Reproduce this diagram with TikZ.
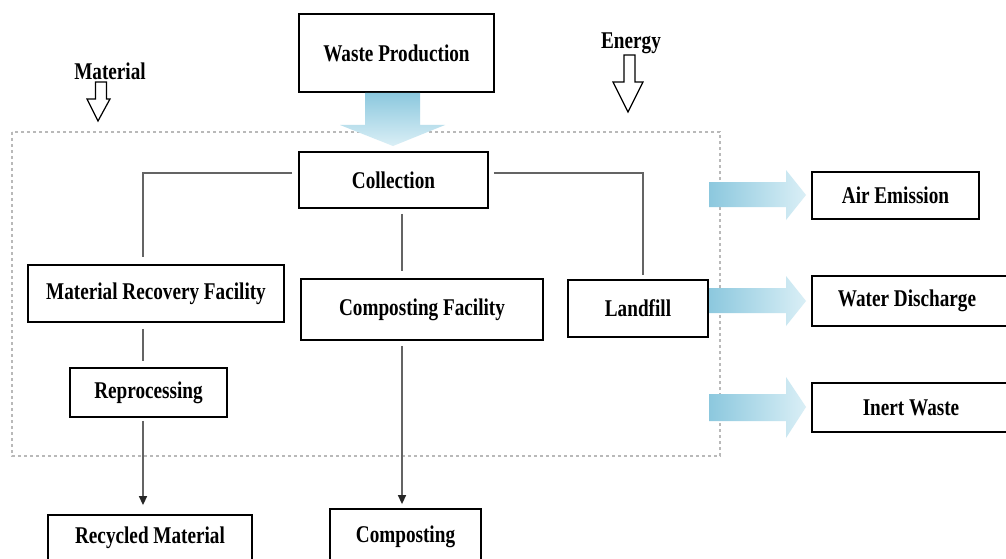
\documentclass[tikz,border=0pt]{standalone}
\usepackage{fontspec}
\setmainfont{Liberation Serif}[FakeStretch=0.8]
\usetikzlibrary{arrows.meta,calc}
\definecolor{blueA}{RGB}{140,200,222}
\definecolor{blueB}{RGB}{218,239,246}
\definecolor{connc}{RGB}{100,100,100}
\tikzset{
  box/.style={draw=black,line width=1.8pt,fill=white,inner sep=0pt,font=\fontsize{24}{26}\selectfont\bfseries},
  conn/.style={draw=connc,line width=1.4pt},
  connarr/.style={conn,-{Triangle[length=9pt,width=8pt,color=black!85,fill=black!85]}},
  lbl/.style={inner sep=0pt,font=\fontsize{24}{26}\selectfont\bfseries},
  hollow/.style={draw=black,fill=white,line width=1.2pt,line join=miter},
  bluer/.style={left color=blueA,right color=blueB,draw=none},
  blued/.style={top color=blueA,bottom color=blueB,draw=none},
  dotbox/.style={draw=gray!55,line width=1.3pt,dash pattern=on 3pt off 3pt}
}
\begin{document}
\begin{tikzpicture}[x=1pt,y=-1pt]
\useasboundingbox (0,0) rectangle (1006,559);
\clip (0,0) rectangle (1006,559);
\fill[white] (0,0) rectangle (1006,559);
% dotted system boundary
\draw[dotbox] (12,132) rectangle (720,456);
% labels with hollow arrows
\node[lbl] (mat) at (110,71) {Material};
\node[lbl] (ene) at (631,43) {Energy};
\draw[hollow] (95.5,82) -- (106.5,82) -- (106.5,99) -- (110,99) -- (98,121) -- (87,99) -- (95.5,99) -- cycle;
\draw[hollow] (624,55) -- (635,55) -- (635,82) -- (643,82) -- (628,112) -- (613,82) -- (624,82) -- cycle;
% boxes
\node[box,minimum width=195pt,minimum height=78pt] (wp) at (396.5,53) {Waste Production};
% big down arrow
\path[blued] (365,93) -- (420,93) -- (420,125) -- (445,125) -- (393,146) -- (340,125) -- (365,125) -- cycle;
\node[box,minimum width=189pt,minimum height=56pt] (col) at (393.5,180) {Collection};
\node[box,minimum width=256pt,minimum height=57pt] (mrf) at (156,293.5) {Material Recovery Facility};
\node[box,minimum width=242pt,minimum height=61pt] (cf) at (422,309.5) {Composting Facility};
\node[box,minimum width=140pt,minimum height=57pt] (lf) at (638,308.5) {Landfill};
\node[box,minimum width=157pt,minimum height=49pt] (rep) at (148.5,392.5) {Reprocessing};
\node[box,minimum width=204pt,minimum height=46pt] (rm) at (150,538) {Recycled Material};
\node[box,minimum width=151pt,minimum height=56pt] (comp) at (405.5,537) {Composting};
\node[box,minimum width=167pt,minimum height=47pt] (air) at (895.5,195.5) {Air Emission};
\node[box,minimum width=198pt,minimum height=50pt] (wd) at (911,301) {};
\node[lbl] (wdt) at (907,301) {Water Discharge};
\node[box,minimum width=198pt,minimum height=49pt] (iw) at (911,407.5) {};
\node[lbl] (iwt) at (911,407.5) {Inert Waste};
% connectors
\draw[conn,shorten <=6pt,shorten >=7pt] ([yshift=7pt]col.west) -| ([xshift=-13pt]mrf.north);
\draw[conn,shorten <=5pt,shorten >=4pt] ([yshift=7pt]col.east) -| ([xshift=5pt]lf.north);
\draw[conn,shorten <=5pt,shorten >=7pt] ([xshift=8.5pt]col.south) -- ([xshift=8.5pt]col.south |- cf.north);
\draw[conn,shorten <=6pt,shorten >=6pt] ([xshift=-5.5pt]rep.north |- mrf.south) -- ([xshift=-5.5pt]rep.north);
\draw[connarr,shorten <=3pt,shorten >=9pt] ([xshift=-5.5pt]rep.south) -- ([xshift=-5.5pt]rep.south |- rm.north);
\draw[connarr,shorten <=5pt,shorten >=4pt] ([xshift=-20pt]cf.south) -- ([xshift=-20pt]cf.south |- comp.north);
% blue output arrows
\path[bluer] (709,182) -- (786,182) -- (786,170) -- (806,195) -- (786,220) -- (786,207) -- (709,207) -- cycle;
\path[bluer] (709,288) -- (786,288) -- (786,276) -- (806,301) -- (786,326) -- (786,313) -- (709,313) -- cycle;
\path[bluer] (709,394) -- (786,394) -- (786,377) -- (806,407) -- (786,438) -- (786,421) -- (709,421) -- cycle;
\end{tikzpicture}
\end{document}
